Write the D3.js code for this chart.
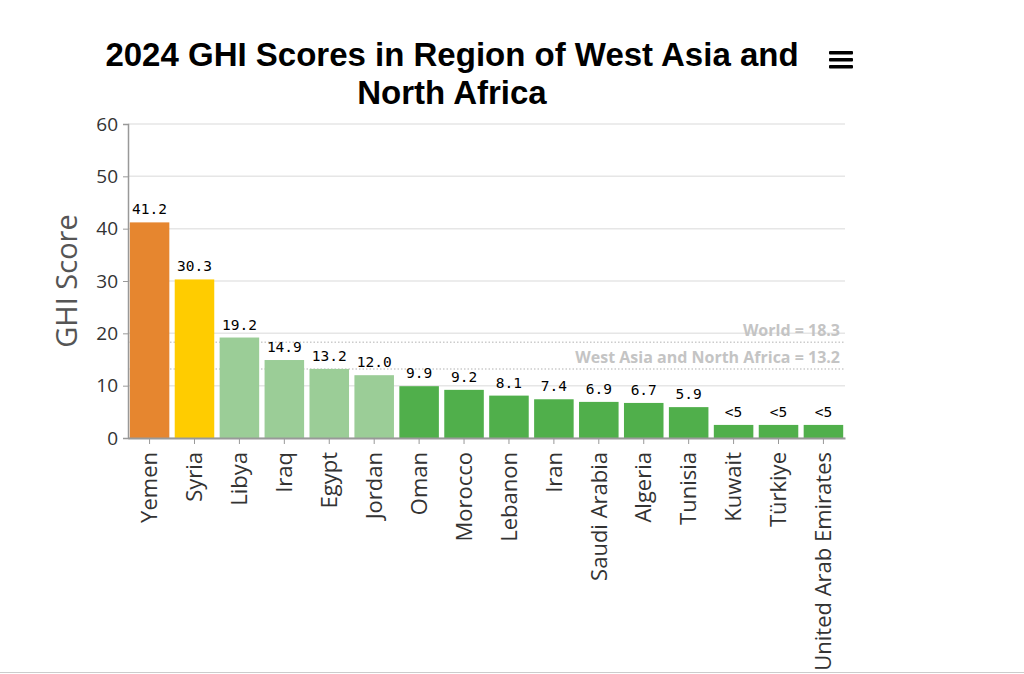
<!DOCTYPE html>
<html><head><meta charset="utf-8">
<script src="https://cdn.jsdelivr.net/npm/d3@7"></script>
<style>body{margin:0;background:#fff;} svg{display:block;}</style>
</head><body>
<svg id="c" width="1024" height="674"></svg>
<script>
const countries = ["Yemen","Syria","Libya","Iraq","Egypt","Jordan","Oman","Morocco","Lebanon","Iran","Saudi Arabia","Algeria","Tunisia","Kuwait","Türkiye","United Arab Emirates"];
const scores = [41.2,30.3,19.2,14.9,13.2,12.0,9.9,9.2,8.1,7.4,6.9,6.7,5.9,2.5,2.5,2.5];
const scoreLabels = ["41.2","30.3","19.2","14.9","13.2","12.0","9.9","9.2","8.1","7.4","6.9","6.7","5.9","<5","<5","<5"];
const severity = ["alarming","serious","moderate","moderate","moderate","moderate","low","low","low","low","low","low","low","low","low","low"];
const yTicks = [0,10,20,30,40,50,60];
const refNames = ["World","West Asia and North Africa"];
const refValues = [18.3,13.2];

const colors = {alarming:"#e6862f", serious:"#ffcc00", moderate:"#9bcd97", low:"#50af4b"};

const svg = d3.select("#c");
const m = {l:128, r:845, t:124, b:438};
const x = d3.scaleBand().domain(countries).range([m.l, m.r]).paddingInner(0.12).paddingOuter(0.04);
const y = d3.scaleLinear().domain([0,60]).range([m.b, m.t]);

// grid
svg.append("g").selectAll("line").data(yTicks).join("line")
  .attr("x1", m.l).attr("x2", m.r).attr("y1", d=>y(d)).attr("y2", d=>y(d))
  .attr("stroke","#e6e6e6").attr("stroke-width",1.5);

// reference lines
refValues.forEach((v,i)=>{
  svg.append("line").attr("x1",m.l).attr("x2",m.r).attr("y1",y(v)).attr("y2",y(v))
    .attr("stroke","#cccccc").attr("stroke-width",1.5).attr("stroke-dasharray","1.5,2");
  svg.append("text").attr("x",840).attr("y",y(v)-6).attr("text-anchor","end")
    .attr("font-family","'Open Sans', sans-serif").attr("font-size",16).attr("font-weight","bold")
    .attr("fill","#c4c4c4").text(refNames[i]+" = "+v.toFixed(1));
});

// bars
svg.append("g").selectAll("rect").data(countries).join("rect")
  .attr("x", d=>x(d)).attr("width", x.bandwidth())
  .attr("y", (d,i)=>y(scores[i])).attr("height",(d,i)=>y(0)-y(scores[i]))
  .attr("fill",(d,i)=>colors[severity[i]]);

// value labels
svg.append("g").selectAll("text").data(countries).join("text")
  .attr("x", d=>x(d)+x.bandwidth()/2).attr("y",(d,i)=>y(scores[i])-8)
  .attr("text-anchor","middle").attr("font-family","'DejaVu Sans Mono', monospace")
  .attr("font-size",14.5).attr("fill","#000").text((d,i)=>scoreLabels[i]);

// y axis
const ya = svg.append("g").attr("transform",`translate(${m.l},0)`)
  .call(d3.axisLeft(y).tickValues(yTicks).tickSize(5).tickPadding(5));
ya.select(".domain").attr("stroke","#999").attr("stroke-width",1.5);
ya.selectAll(".tick line").attr("stroke","#999");
ya.selectAll("text").attr("font-family","'Open Sans', sans-serif").attr("font-size",19).attr("fill","#333");

// x axis
const xa = svg.append("g").attr("transform",`translate(0,${m.b})`)
  .call(d3.axisBottom(x).tickSize(6).tickSizeOuter(0));
xa.select(".domain").attr("stroke","#999").attr("stroke-width",2);
xa.selectAll(".tick line").attr("stroke","#999");
xa.selectAll("text").attr("font-family","'Open Sans', sans-serif").attr("font-size",22).attr("fill","#333")
  .attr("transform","rotate(-90)").attr("text-anchor","end").attr("dy","0.35em").attr("x",-14).attr("y",0);

// y title
svg.append("text").attr("transform","translate(77,281) rotate(-90)").attr("text-anchor","middle")
  .attr("font-family","'Open Sans', sans-serif").attr("font-size",29).attr("fill","#555").text("GHI Score");

// title
const title = svg.append("text").attr("text-anchor","middle")
  .attr("font-family","'Liberation Sans', Arial, sans-serif").attr("font-weight","bold").attr("font-size",33).attr("fill","#000");
title.append("tspan").attr("x",452).attr("y",66).text("2024 GHI Scores in Region of West Asia and");
title.append("tspan").attr("x",452).attr("y",104).text("North Africa");

// menu icon
[51,58,65].forEach(yy=>svg.append("rect").attr("x",829).attr("y",yy).attr("width",24).attr("height",3.5).attr("rx",1).attr("fill","#000"));

// bottom border
svg.append("line").attr("x1",0).attr("x2",1024).attr("y1",672.5).attr("y2",672.5).attr("stroke","#ccc");
</script>
</body></html>
